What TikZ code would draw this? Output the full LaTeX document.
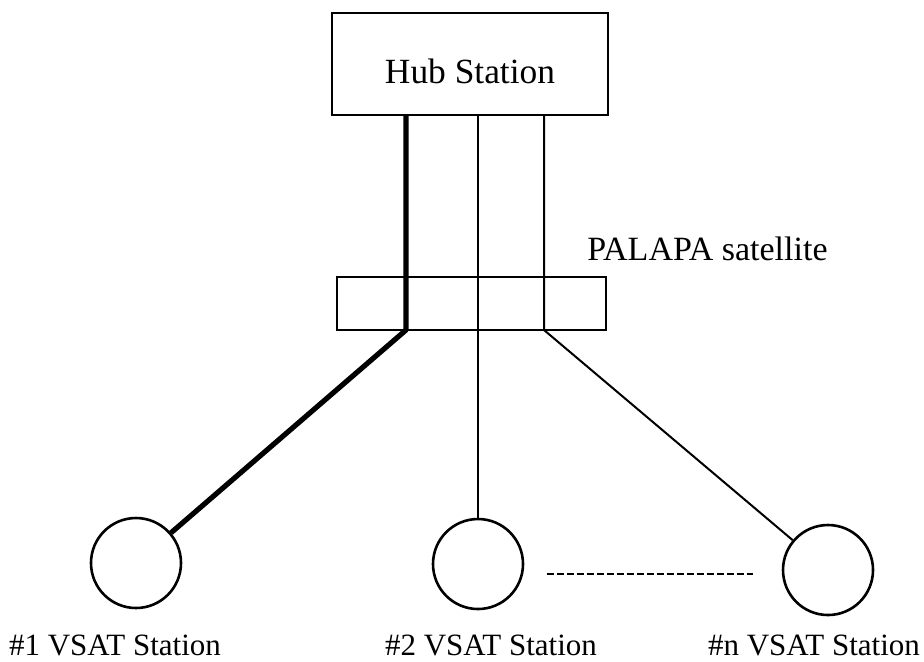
\documentclass[tikz,border=0pt]{standalone}
\usepackage{fontspec}
\setmainfont{Liberation Serif}
\usetikzlibrary{positioning}
\tikzstyle{station} = [rectangle, draw=black, line width=1.2pt, inner sep=0pt]
\tikzstyle{vsat} = [circle, draw=black, line width=1.3pt, minimum size=45pt, inner sep=0pt]
\tikzstyle{link} = [line width=1pt, line join=round]
\tikzstyle{mainlink} = [line width=2.6pt, line join=round]
\tikzstyle{caption} = [font=\fontsize{15.5}{18}\selectfont, anchor=base, inner sep=0pt]
\begin{document}
\begin{tikzpicture}[x=0.5pt, y=-0.5pt]
        \useasboundingbox (0,0) rectangle (924,661);
        \node (hub) [station, minimum width=138pt, minimum height=51pt] at (470,64) {};
        \node (hubname) [anchor=base, inner sep=0pt, font=\fontsize{17.7}{20}\selectfont] at (470,83) {Hub Station};
        \node (sat) [station, minimum width=134.5pt, minimum height=26.5pt] at (471.5,303.5) {};
        \node (satname) [anchor=base, inner sep=0pt, font=\fontsize{17}{20}\selectfont] at (707.5,260) {PALAPA satellite};
        \node (vsat1) [vsat] at (136,563) {};
        \node (vsat2) [vsat] at (478,564) {};
        \node (vsatn) [vsat] at (828,570) {};
        \node (name1) [caption] at (115,655) {\#1 VSAT Station};
        \node (name2) [caption] at (491,655) {\#2 VSAT Station};
        \node (namen) [caption] at (814,655) {\#n VSAT Station};
        % bends under the satellite
        \coordinate (k1) at (406,330);
        \coordinate (kn) at (544,330);
        \coordinate (dotsL) at (547,574);
        \coordinate (dotsR) at (753,574);
        \draw [mainlink] (hub.south -| k1) -- (k1) -- (vsat1);
        \draw [link] (hub.south -| vsat2) -- (vsat2);
        \draw [link] (hub.south -| kn) -- (kn) -- (vsatn);
        \draw [line width=0.8pt, dash pattern=on 3.5pt off 1.5pt] (dotsL) -- (dotsR);
    \end{tikzpicture}
\end{document}
